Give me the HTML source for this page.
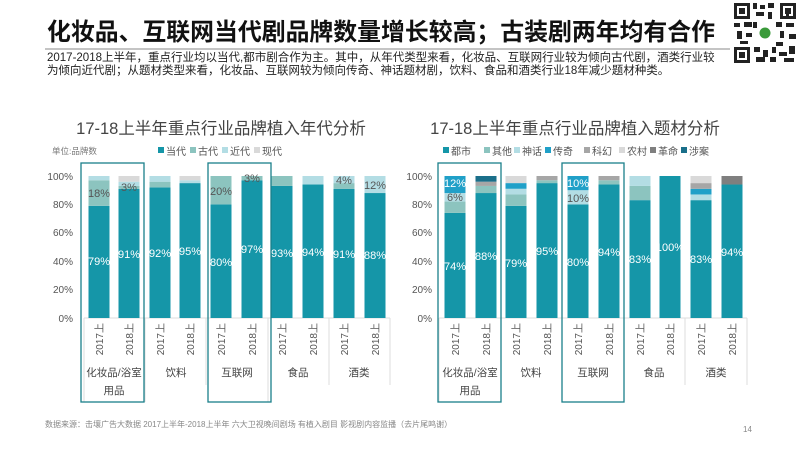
<!DOCTYPE html>
<html><head><meta charset="utf-8"><style>
body{margin:0;width:800px;height:450px;background:#fff;overflow:hidden;font-family:"Liberation Sans","Noto Sans CJK SC",sans-serif;}
svg text{font-family:"Liberation Sans","Noto Sans CJK SC",sans-serif;}
</style></head><body>
<svg width="800" height="450" viewBox="0 0 800 450" xmlns="http://www.w3.org/2000/svg">
<text x="47" y="40" font-size="24" font-weight="bold" fill="#111" textLength="668" lengthAdjust="spacingAndGlyphs">化妆品、互联网当代剧品牌数量增长较高；古装剧两年均有合作</text>
<line x1="45" y1="49" x2="730" y2="49" stroke="#888" stroke-width="1"/>
<text x="47" y="61" font-size="11.5" fill="#222">2017-2018上半年，重点行业均以当代,都市剧合作为主。其中，从年代类型来看，化妆品、互联网行业较为倾向古代剧，酒类行业较</text>
<text x="47" y="74" font-size="11.5" fill="#222">为倾向近代剧；从题材类型来看，化妆品、互联网较为倾向传奇、神话题材剧，饮料、食品和酒类行业18年减少题材种类。</text>
<!-- QR -->
<g fill="#222">
<rect x="734" y="3" width="62" height="60" fill="#fff"/>
<rect x="734" y="3" width="16" height="16"/><rect x="737" y="6" width="10" height="10" fill="#fff"/><rect x="739" y="8" width="6" height="6"/>
<rect x="780" y="3" width="16" height="16"/><rect x="783" y="6" width="10" height="10" fill="#fff"/><rect x="785" y="8" width="6" height="6"/>
<rect x="734" y="47" width="16" height="16"/><rect x="737" y="50" width="10" height="10" fill="#fff"/><rect x="739" y="52" width="6" height="6"/>
<rect x="753" y="3" width="4" height="6"/><rect x="760" y="5" width="5" height="4"/><rect x="768" y="3" width="6" height="5"/><rect x="756" y="12" width="8" height="4"/><rect x="768" y="12" width="4" height="7"/>
<rect x="734" y="23" width="6" height="4"/><rect x="744" y="22" width="8" height="5"/><rect x="737" y="31" width="5" height="8"/><rect x="746" y="33" width="6" height="4"/><rect x="753" y="22" width="4" height="6"/>
<rect x="776" y="22" width="6" height="5"/><rect x="786" y="23" width="8" height="4"/><rect x="780" y="31" width="4" height="7"/><rect x="789" y="34" width="7" height="5"/><rect x="776" y="42" width="7" height="4"/>
<rect x="754" y="47" width="6" height="5"/><rect x="763" y="50" width="5" height="7"/><rect x="772" y="47" width="4" height="6"/><rect x="779" y="52" width="8" height="4"/><rect x="789" y="46" width="6" height="8"/><rect x="756" y="57" width="9" height="5"/><rect x="770" y="57" width="6" height="5"/><rect x="784" y="58" width="10" height="4"/>
<rect x="740" y="41" width="8" height="3"/><rect x="786" y="14" width="3" height="3"/>
<rect x="758" y="26" width="14" height="14" fill="#fff"/><circle cx="765" cy="33" r="5.5" fill="#3a9a3a"/>
</g>

<!-- LEFT CHART -->
<text x="221" y="134" font-size="16.5" fill="#444" text-anchor="middle">17-18上半年重点行业品牌植入年代分析</text>
<text x="52" y="154" font-size="8.5" fill="#777">单位:品牌数</text>
<g font-size="10" fill="#555">
<rect x="158" y="147" width="6" height="6" fill="#1596a8"/><text x="166" y="155">当代</text>
<rect x="190" y="147" width="6" height="6" fill="#8cc4bf"/><text x="198" y="155">古代</text>
<rect x="222" y="147" width="6" height="6" fill="#b3dde4"/><text x="230" y="155">近代</text>
<rect x="254" y="147" width="6" height="6" fill="#d9d9d9"/><text x="262" y="155">现代</text>
</g>
<g font-size="10" fill="#555" text-anchor="end">
<text x="73" y="180">100%</text><text x="73" y="208">80%</text><text x="73" y="236">60%</text><text x="73" y="265">40%</text><text x="73" y="293">20%</text><text x="73" y="322">0%</text>
</g>
<g stroke="#ddd" stroke-width="1">
<line x1="84" y1="318" x2="390" y2="318"/>
<line x1="84" y1="318" x2="84" y2="402"/><line x1="145" y1="318" x2="145" y2="402"/><line x1="206" y1="318" x2="206" y2="385"/><line x1="268" y1="318" x2="268" y2="402"/><line x1="329" y1="318" x2="329" y2="385"/><line x1="390" y1="318" x2="390" y2="385"/>
</g>
<g id="lb"></g>

<!-- RIGHT CHART -->
<text x="575" y="134" font-size="16.5" fill="#444" text-anchor="middle">17-18上半年重点行业品牌植入题材分析</text>
<g font-size="10" fill="#555">
<rect x="443" y="147" width="6" height="6" fill="#1596a8"/><text x="451" y="155">都市</text>
<rect x="484" y="147" width="6" height="6" fill="#8cc4bf"/><text x="492" y="155">其他</text>
<rect x="514" y="147" width="6" height="6" fill="#b3dde4"/><text x="522" y="155">神话</text>
<rect x="545" y="147" width="6" height="6" fill="#20a0c8"/><text x="553" y="155">传奇</text>
<rect x="584" y="147" width="6" height="6" fill="#a6a6a6"/><text x="592" y="155">科幻</text>
<rect x="619" y="147" width="6" height="6" fill="#d9d9d9"/><text x="627" y="155">农村</text>
<rect x="650" y="147" width="6" height="6" fill="#7f7f7f"/><text x="658" y="155">革命</text>
<rect x="681" y="147" width="6" height="6" fill="#1a6f8a"/><text x="689" y="155">涉案</text>
</g>
<g font-size="10" fill="#555" text-anchor="end">
<text x="432" y="180">100%</text><text x="432" y="208">80%</text><text x="432" y="236">60%</text><text x="432" y="265">40%</text><text x="432" y="293">20%</text><text x="432" y="322">0%</text>
</g>
<g stroke="#ddd" stroke-width="1">
<line x1="439" y1="318" x2="747" y2="318"/>
<line x1="439" y1="318" x2="439" y2="402"/><line x1="501" y1="318" x2="501" y2="402"/><line x1="562" y1="318" x2="562" y2="402"/><line x1="624" y1="318" x2="624" y2="402"/><line x1="685" y1="318" x2="685" y2="385"/><line x1="747" y1="318" x2="747" y2="385"/>
</g>
<g id="rb"></g>

<text x="45" y="427" font-size="8" fill="#888">数据来源：击壤广告大数据  2017上半年-2018上半年    六大卫视晚间剧场  有植入剧目 影视剧内容监播（去片尾鸣谢）</text>
<text x="743" y="432" font-size="8" fill="#888">14</text>
</svg>
<script>
var NS="http://www.w3.org/2000/svg";
function el(p,t,a,txt){var e=document.createElementNS(NS,t);for(var k in a)e.setAttribute(k,a[k]);if(txt!=null)e.textContent=txt;p.appendChild(e);return e;}
var top0=176,bot=318,H=142;
function chart(g,cols,centers,data,labels,boxes,cats,catx){
 data.forEach(function(d,i){var y=bot,cx=centers[i];
  d.forEach(function(v,j){if(!v)return;var h=v/100*H;y-=h;el(g,"rect",{x:cx-10.5,y:y,width:21,height:h,fill:cols[j]});});
  labels[i].forEach(function(L){el(g,"text",{x:cx,y:L[1],"font-size":11,fill:L[2]||"#fff","text-anchor":"middle"},L[0]);});
  var yr=i%2?"2018上":"2017上";
  el(g,"text",{x:0,y:0,"font-size":10,fill:"#555","text-anchor":"end",transform:"translate("+(cx+4)+",323) rotate(-90)"},yr);
 });
 boxes.forEach(function(b){el(g,"rect",{x:b[0],y:163,width:b[1]-b[0],height:239,fill:"none",stroke:"#1a7f8a","stroke-width":1.3});});
 cats.forEach(function(c,i){el(g,"text",{x:catx[i],y:376,"font-size":10.5,fill:"#444","text-anchor":"middle"},c);});
 el(g,"text",{x:catx[0],y:394,"font-size":10.5,fill:"#444","text-anchor":"middle"},"用品");
}
var lc=[99,129,160,190,221,252,282,313,344,375];
chart(document.getElementById("lb"),["#1596a8","#8cc4bf","#b3dde4","#d9d9d9"],lc,
[[79,18,3,0],[91,2,3,4],[92,4,4,0],[95,0,2,3],[80,20,0,0],[97,3,0,0],[93,7,0,0],[94,0,6,0],[91,4,5,0],[88,0,12,0]],
[[["79%",265],["18%",197,"#555"]],[["91%",258],["3%",191,"#555"]],[["92%",257]],[["95%",255]],[["80%",266],["20%",195,"#555"]],[["97%",253],["3%",182,"#555"]],[["93%",257]],[["94%",256]],[["91%",258],["4%",184,"#555"]],[["88%",259],["12%",189,"#555"]]],
[[81,144],[208,271]],["化妆品/浴室","饮料","互联网","食品","酒类"],[114,176,237,298,359]);
var rc=[455,486,516,547,578,609,640,670,701,732];
chart(document.getElementById("rb"),["#1596a8","#8cc4bf","#b3dde4","#20a0c8","#a6a6a6","#d9d9d9","#7f7f7f","#1a6f8a"],rc,
[[74,8,6,12,0,0,0,0],[88,5,0,0,3,0,0,4],[79,8,4,4,0,5,0,0],[95,2,0,0,3,0,0,0],[80,0,10,10,0,0,0,0],[94,3,0,0,3,0,0,0],[83,10,7,0,0,0,0,0],[100,0,0,0,0,0,0,0],[83,0,4,4,4,5,0,0],[94,0,0,0,0,0,6,0]],
[[["74%",270],["12%",187],["6%",201,"#555"]],[["88%",260]],[["79%",267]],[["95%",255]],[["80%",266],["10%",187],["10%",202,"#555"]],[["94%",256]],[["83%",263]],[["100%",251]],[["83%",263]],[["94%",256]]],
[[438,501],[562,624]],["化妆品/浴室","饮料","互联网","食品","酒类"],[470,531,593,654,716]);
</script>
</body></html>
